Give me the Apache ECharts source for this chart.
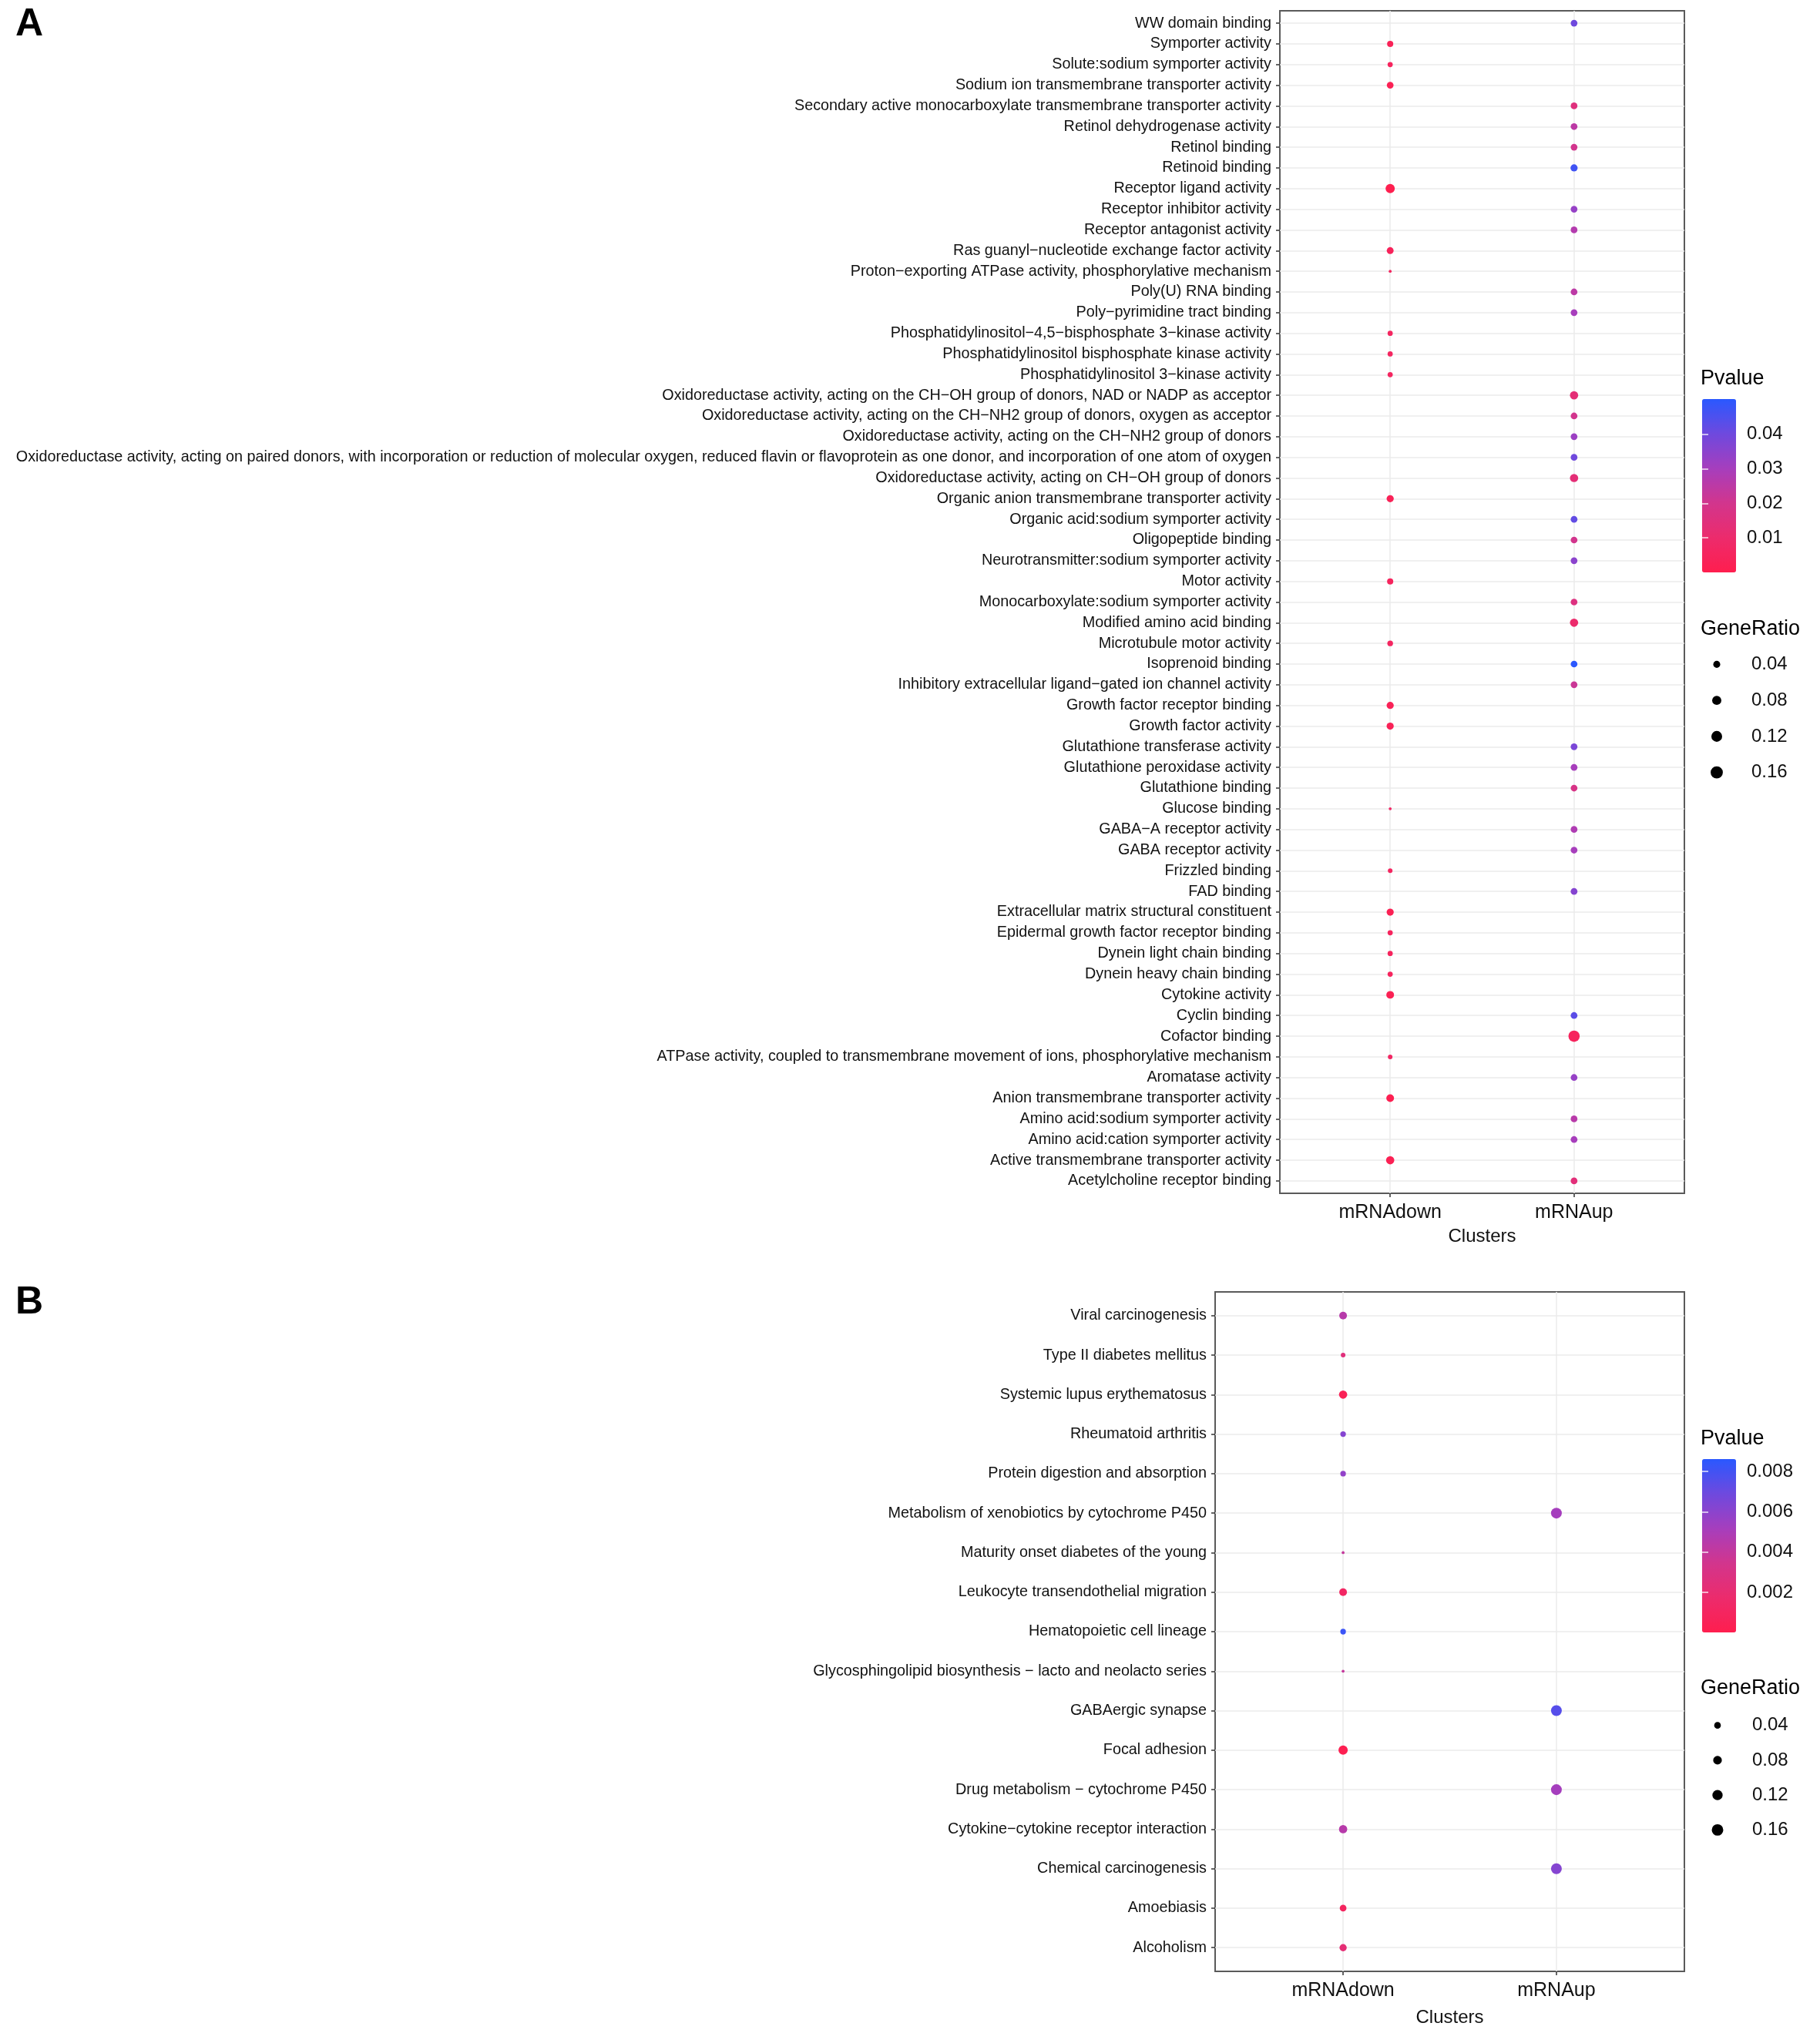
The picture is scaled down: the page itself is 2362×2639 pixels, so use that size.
<!DOCTYPE html>
<html>
<head>
<meta charset="utf-8">
<script src="https://cdn.jsdelivr.net/npm/echarts@6/dist/echarts.min.js"></script>
<style>
html,body{margin:0;padding:0;background:#fff;}
#chart{width:2362px;height:2639px;}
</style>
</head>
<body>
<div id="chart"></div>
<script>
// ---------------- DATA ----------------
const clusters = ['mRNAdown', 'mRNAup'];

// Panel A (GO terms), top to bottom
const termsA = [
  'WW domain binding',
  'Symporter activity',
  'Solute:sodium symporter activity',
  'Sodium ion transmembrane transporter activity',
  'Secondary active monocarboxylate transmembrane transporter activity',
  'Retinol dehydrogenase activity',
  'Retinol binding',
  'Retinoid binding',
  'Receptor ligand activity',
  'Receptor inhibitor activity',
  'Receptor antagonist activity',
  'Ras guanyl\u2212nucleotide exchange factor activity',
  'Proton\u2212exporting ATPase activity, phosphorylative mechanism',
  'Poly(U) RNA binding',
  'Poly\u2212pyrimidine tract binding',
  'Phosphatidylinositol\u22124,5\u2212bisphosphate 3\u2212kinase activity',
  'Phosphatidylinositol bisphosphate kinase activity',
  'Phosphatidylinositol 3\u2212kinase activity',
  'Oxidoreductase activity, acting on the CH\u2212OH group of donors, NAD or NADP as acceptor',
  'Oxidoreductase activity, acting on the CH\u2212NH2 group of donors, oxygen as acceptor',
  'Oxidoreductase activity, acting on the CH\u2212NH2 group of donors',
  'Oxidoreductase activity, acting on paired donors, with incorporation or reduction of molecular oxygen, reduced flavin or flavoprotein as one donor, and incorporation of one atom of oxygen',
  'Oxidoreductase activity, acting on CH\u2212OH group of donors',
  'Organic anion transmembrane transporter activity',
  'Organic acid:sodium symporter activity',
  'Oligopeptide binding',
  'Neurotransmitter:sodium symporter activity',
  'Motor activity',
  'Monocarboxylate:sodium symporter activity',
  'Modified amino acid binding',
  'Microtubule motor activity',
  'Isoprenoid binding',
  'Inhibitory extracellular ligand\u2212gated ion channel activity',
  'Growth factor receptor binding',
  'Growth factor activity',
  'Glutathione transferase activity',
  'Glutathione peroxidase activity',
  'Glutathione binding',
  'Glucose binding',
  'GABA\u2212A receptor activity',
  'GABA receptor activity',
  'Frizzled binding',
  'FAD binding',
  'Extracellular matrix structural constituent',
  'Epidermal growth factor receptor binding',
  'Dynein light chain binding',
  'Dynein heavy chain binding',
  'Cytokine activity',
  'Cyclin binding',
  'Cofactor binding',
  'ATPase activity, coupled to transmembrane movement of ions, phosphorylative mechanism',
  'Aromatase activity',
  'Anion transmembrane transporter activity',
  'Amino acid:sodium symporter activity',
  'Amino acid:cation symporter activity',
  'Active transmembrane transporter activity',
  'Acetylcholine receptor binding'
];
const clusterA = [
  'mRNAup','mRNAdown','mRNAdown','mRNAdown','mRNAup','mRNAup','mRNAup','mRNAup','mRNAdown','mRNAup',
  'mRNAup','mRNAdown','mRNAdown','mRNAup','mRNAup','mRNAdown','mRNAdown','mRNAdown','mRNAup','mRNAup',
  'mRNAup','mRNAup','mRNAup','mRNAdown','mRNAup','mRNAup','mRNAup','mRNAdown','mRNAup','mRNAup',
  'mRNAdown','mRNAup','mRNAup','mRNAdown','mRNAdown','mRNAup','mRNAup','mRNAup','mRNAdown','mRNAup',
  'mRNAup','mRNAdown','mRNAup','mRNAdown','mRNAdown','mRNAdown','mRNAdown','mRNAdown','mRNAup','mRNAup',
  'mRNAdown','mRNAup','mRNAdown','mRNAup','mRNAup','mRNAdown','mRNAup'
];
const pvalueA = [
  0.040,0.003,0.005,0.002,0.015,0.025,0.020,0.047,0.0005,0.033,
  0.027,0.004,0.006,0.025,0.030,0.006,0.006,0.006,0.013,0.020,
  0.032,0.040,0.013,0.003,0.042,0.020,0.035,0.005,0.016,0.010,
  0.006,0.050,0.022,0.003,0.003,0.038,0.030,0.018,0.008,0.028,
  0.030,0.006,0.036,0.002,0.005,0.005,0.005,0.002,0.043,0.005,
  0.007,0.033,0.001,0.026,0.030,0.002,0.014
];
const ratioA = [
  0.036,0.029,0.018,0.036,0.036,0.036,0.036,0.042,0.081,0.036,
  0.036,0.038,0.0056,0.036,0.036,0.018,0.018,0.018,0.061,0.036,
  0.036,0.036,0.061,0.042,0.036,0.036,0.036,0.029,0.036,0.061,
  0.023,0.036,0.036,0.042,0.042,0.036,0.036,0.036,0.0056,0.036,
  0.036,0.0135,0.036,0.042,0.018,0.018,0.018,0.051,0.036,0.134,
  0.0135,0.036,0.051,0.036,0.036,0.061,0.036
];

// Panel B (KEGG pathways), top to bottom
const termsB = [
  'Viral carcinogenesis',
  'Type II diabetes mellitus',
  'Systemic lupus erythematosus',
  'Rheumatoid arthritis',
  'Protein digestion and absorption',
  'Metabolism of xenobiotics by cytochrome P450',
  'Maturity onset diabetes of the young',
  'Leukocyte transendothelial migration',
  'Hematopoietic cell lineage',
  'Glycosphingolipid biosynthesis \u2212 lacto and neolacto series',
  'GABAergic synapse',
  'Focal adhesion',
  'Drug metabolism \u2212 cytochrome P450',
  'Cytokine\u2212cytokine receptor interaction',
  'Chemical carcinogenesis',
  'Amoebiasis',
  'Alcoholism'
];
const clusterB = [
  'mRNAdown','mRNAdown','mRNAdown','mRNAdown','mRNAdown','mRNAup','mRNAdown','mRNAdown','mRNAdown',
  'mRNAdown','mRNAup','mRNAdown','mRNAup','mRNAdown','mRNAup','mRNAdown','mRNAdown'
];
const pvalueB = [
  0.0045,0.0025,0.0005,0.0062,0.0058,0.0052,0.0040,0.0012,0.0082,
  0.0040,0.0075,0.0002,0.0052,0.0045,0.0062,0.0010,0.0022
];
const ratioB = [
  0.059,0.015,0.070,0.025,0.025,0.138,0.0056,0.059,0.025,
  0.0056,0.138,0.094,0.138,0.070,0.138,0.041,0.049
];

// legend scales
const pRangeA = [0, 0.0502];
const pTicksA = [0.01, 0.02, 0.03, 0.04];
const pRangeB = [0.00001, 0.00862];
const pTicksB = [0.002, 0.004, 0.006, 0.008];
const ratioTicks = [0.04, 0.08, 0.12, 0.16];

// ---------------- STYLE HELPERS ----------------
const FONT = "'Liberation Sans', Arial, Helvetica, sans-serif";
const colorStops = ['#FF1E4E', '#EC2B6C', '#D2358D', '#A63EBD', '#6E49DE', '#2A58FF'];
function sizeA(r) { return 3 + 14 * Math.sqrt(Math.max(0, r - 0.005) / 0.185); }
function sizeB(r) { return 3 + 13 * Math.sqrt(Math.max(0, r - 0.005) / 0.185); }

function buildPoints(terms, cl, pv, ra) {
  const n = terms.length;
  return terms.map((t, i) => [clusters.indexOf(cl[i]) + 1, n - i, pv[i], ra[i], t]);
}
const ptsA = buildPoints(termsA, clusterA, pvalueA, ratioA);
const ptsB = buildPoints(termsB, clusterB, pvalueB, ratioB);

function rangeInts(n) { const a = []; for (let i = 1; i <= n; i++) a.push(i); return a; }

const gridLine = { show: true, lineStyle: { color: '#EBEBEB', width: 1.5 } };

function mainX(gi, nameGap) {
  return {
    gridIndex: gi, type: 'value', min: 0.4, max: 2.6,
    axisLine: { show: false },
    axisTick: { show: true, customValues: [1, 2], length: 5, lineStyle: { color: '#333', width: 1.5 } },
    axisLabel: { customValues: [1, 2], formatter: v => clusters[Math.round(v) - 1], fontFamily: FONT, fontSize: 25, color: '#111', margin: 13 },
    splitLine: gridLine,
    name: 'Clusters', nameLocation: 'middle', nameGap: nameGap,
    nameTextStyle: { fontFamily: FONT, fontSize: 24, color: '#111' }
  };
}
function mainY(gi, terms) {
  const n = terms.length;
  return {
    gridIndex: gi, type: 'value', min: 0.4, max: n + 0.6,
    axisLine: { show: false },
    axisTick: { show: true, customValues: rangeInts(n), length: 5, lineStyle: { color: '#333', width: 1.5 } },
    axisLabel: { customValues: rangeInts(n), formatter: v => terms[n - Math.round(v)], fontFamily: FONT, fontSize: 19.8, color: '#111', margin: 11 },
    splitLine: gridLine
  };
}
function hiddenX(gi) {
  return { gridIndex: gi, type: 'value', min: 0, max: 1, show: false };
}
function cbAxis(gi, range, ticks, side, digits) {
  return {
    gridIndex: gi, type: 'value', min: range[0], max: range[1], position: side, z: 10,
    axisLine: { show: false },
    splitLine: { show: false },
    axisTick: { show: true, inside: true, customValues: ticks, length: 8, lineStyle: { color: 'rgba(255,255,255,0.85)', width: 1.5 } },
    axisLabel: { show: side === 'right', customValues: ticks, formatter: v => v.toFixed(digits), fontFamily: FONT, fontSize: 24, color: '#111', margin: 14 }
  };
}
function ratioAxis(gi) {
  return {
    gridIndex: gi, type: 'category', data: ratioTicks.map(v => v.toFixed(2)), inverse: true, position: 'right',
    axisLine: { show: false }, axisTick: { show: false }, splitLine: { show: false },
    axisLabel: { fontFamily: FONT, fontSize: 24, color: '#111', margin: 27 }
  };
}
function titleAt(text, left, top, size, weight) {
  return { text: text, left: left, top: top, padding: 0, itemGap: 0,
    textStyle: { fontFamily: FONT, fontSize: size, fontWeight: weight || 'normal', color: '#000' } };
}

const option = {
  animation: false,
  backgroundColor: '#fff',
  title: [
    titleAt('A', 20, 7, 50, 'bold'),
    titleAt('B', 20, 1666, 50, 'bold'),
    titleAt('Pvalue', 2207, 478, 27),
    titleAt('GeneRatio', 2207, 803, 27),
    titleAt('Pvalue', 2207, 1854, 27),
    titleAt('GeneRatio', 2207, 2178, 27)
  ],
  grid: [
    { left: 1661, top: 14, width: 525, height: 1535, show: true, borderColor: '#5a5a5a', borderWidth: 2, backgroundColor: '#fff' },
    { left: 1577, top: 1677, width: 609, height: 882, show: true, borderColor: '#5a5a5a', borderWidth: 2, backgroundColor: '#fff' },
    { left: 2209, top: 518, width: 44, height: 225 },
    { left: 2209, top: 1894, width: 44, height: 225 },
    { left: 2210, top: 839, width: 36, height: 187 },
    { left: 2211, top: 2217, width: 36, height: 181 }
  ],
  xAxis: [
    mainX(0, 44), mainX(1, 48),
    hiddenX(2), hiddenX(3), hiddenX(4), hiddenX(5)
  ],
  yAxis: [
    mainY(0, termsA), mainY(1, termsB),
    cbAxis(2, pRangeA, pTicksA, 'right', 2), cbAxis(2, pRangeA, pTicksA, 'left', 2),
    cbAxis(3, pRangeB, pTicksB, 'right', 3), cbAxis(3, pRangeB, pTicksB, 'left', 3),
    ratioAxis(4), ratioAxis(5)
  ],
  visualMap: [
    { type: 'continuous', seriesIndex: 0, dimension: 2, min: pRangeA[0], max: pRangeA[1],
      inRange: { color: colorStops }, calculable: false, hoverLink: false,
      left: 2209, top: 518, itemWidth: 44, itemHeight: 225, padding: 0, text: null, z: 4 },
    { type: 'continuous', seriesIndex: 1, dimension: 2, min: pRangeB[0], max: pRangeB[1],
      inRange: { color: colorStops }, calculable: false, hoverLink: false,
      left: 2209, top: 1894, itemWidth: 44, itemHeight: 225, padding: 0, text: null, z: 4 }
  ],
  series: [
    { type: 'scatter', xAxisIndex: 0, yAxisIndex: 0, data: ptsA, encode: { x: 0, y: 1 },
      symbolSize: v => sizeA(v[3]), itemStyle: { opacity: 1 }, z: 3 },
    { type: 'scatter', xAxisIndex: 1, yAxisIndex: 1, data: ptsB, encode: { x: 0, y: 1 },
      symbolSize: v => sizeB(v[3]), itemStyle: { opacity: 1 }, z: 3 },
    { type: 'scatter', xAxisIndex: 4, yAxisIndex: 6,
      data: ratioTicks.map(r => [0.5, r.toFixed(2), r]),
      symbolSize: v => sizeA(v[2]), itemStyle: { color: '#000', opacity: 1 } },
    { type: 'scatter', xAxisIndex: 5, yAxisIndex: 7,
      data: ratioTicks.map(r => [0.5, r.toFixed(2), r]),
      symbolSize: v => sizeB(v[2]), itemStyle: { color: '#000', opacity: 1 } }
  ]
};

const chart = echarts.init(document.getElementById('chart'), null, { renderer: 'canvas', width: 2362, height: 2639 });
chart.setOption(option);
</script>
</body>
</html>
